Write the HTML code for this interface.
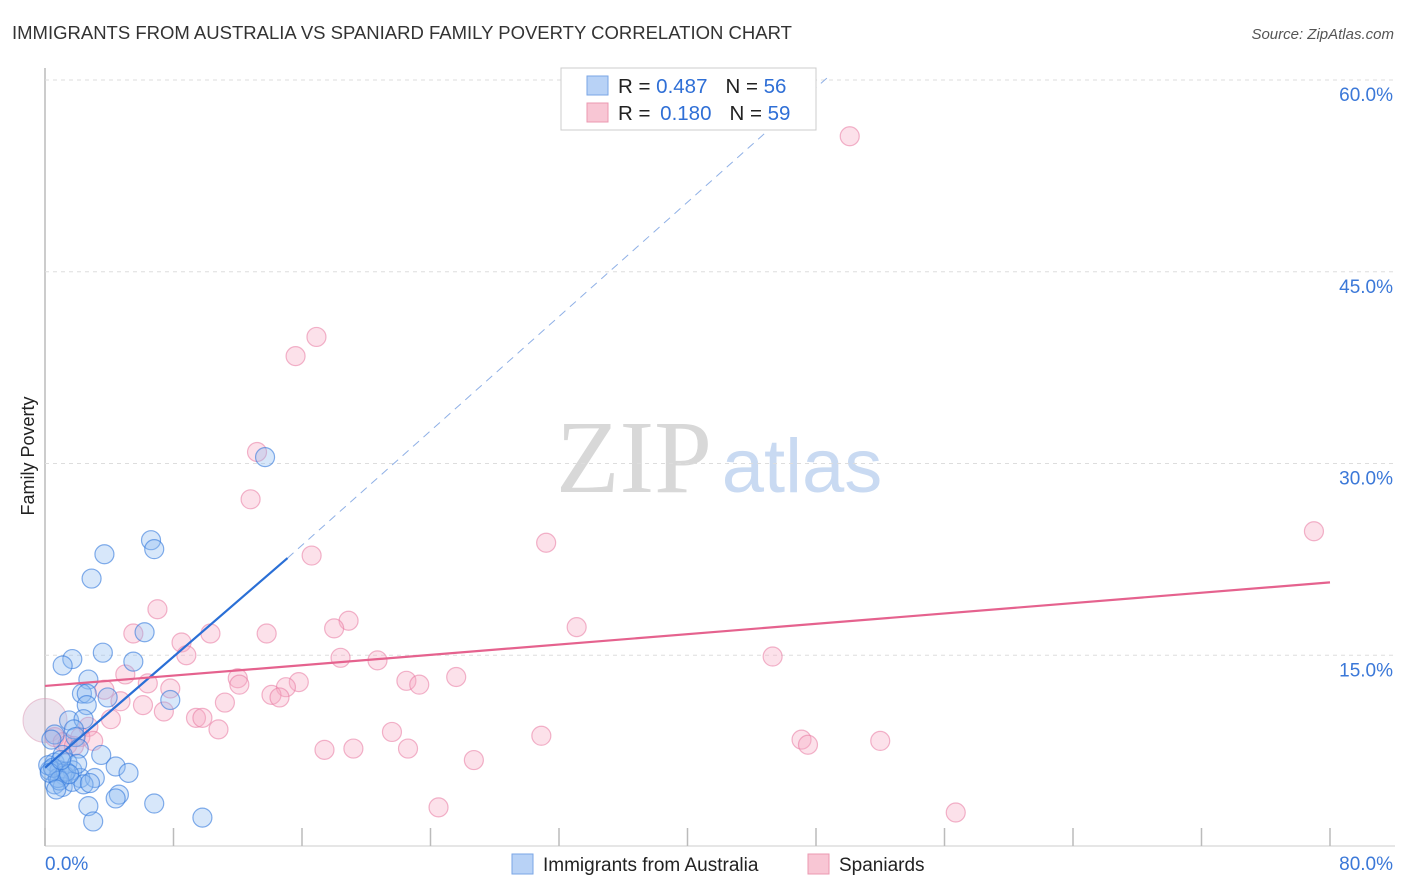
<!DOCTYPE html>
<html><head><meta charset="utf-8"><style>
body{margin:0;background:#fff;font-family:"Liberation Sans",sans-serif;}
#c{position:relative;width:1406px;height:892px;overflow:hidden}
</style></head><body>
<div id="c">
<svg id="s" width="1406" height="892" xmlns="http://www.w3.org/2000/svg">
<text x="12" y="39" font-size="18.5" fill="#333">IMMIGRANTS FROM AUSTRALIA VS SPANIARD FAMILY POVERTY CORRELATION CHART</text>
<text x="1394" y="39" font-size="15" fill="#555" font-style="italic" text-anchor="end">Source: ZipAtlas.com</text>
<text x="634" y="492" font-size="104" fill="#d8d8d8" font-family="Liberation Serif,serif" text-anchor="middle">ZIP</text>
<text x="802" y="492" font-size="76" fill="#c9daf2" text-anchor="middle">atlas</text>
<text transform="translate(34,456) rotate(-90)" font-size="18" fill="#222" text-anchor="middle">Family Poverty</text>
<g id="grid"></g><g id="pts"></g><g id="lines"></g>
<g>
<rect x="561" y="68" width="255" height="62" fill="#fff" stroke="#ccc"/>
<rect x="587" y="76" width="21" height="19" fill="#b8d2f6" stroke="#7aa6e6"/>
<rect x="587" y="103" width="21" height="19" fill="#f8c6d4" stroke="#eb98b1"/>
<text x="618" y="93" font-size="20.5" fill="#222">R = <tspan fill="#2f6fd6">0.487</tspan><tspan dx="18">N = </tspan><tspan fill="#2f6fd6">56</tspan></text>
<text x="618" y="120" font-size="20.5" fill="#222">R = <tspan fill="#2f6fd6" dx="4">0.180</tspan><tspan dx="18">N = </tspan><tspan fill="#2f6fd6">59</tspan></text>
</g>
<g>
<rect x="512" y="854" width="21" height="20" fill="#b8d2f6" stroke="#7aa6e6"/>
<text x="543" y="871" font-size="19" fill="#222">Immigrants from Australia</text>
<rect x="808" y="854" width="21" height="20" fill="#f8c6d4" stroke="#eb98b1"/>
<text x="839" y="871" font-size="19" fill="#222">Spaniards</text>
</g>
</svg>
</div>
<script>
const yTicks=[15,30,45,60];
const yTickLabels=["15.0%","30.0%","45.0%","60.0%"];
const xTicks=[0,8,16,24,32,40,48,56,64,72,80];
const blueX=[13.7,6.6,6.8,3.7,2.9,6.2,3.6,1.7,1.1,5.5,2.7,2.3,2.6,7.8,3.9,2.6,1.5,2.4,1.8,1.9,0.6,2.1,3.5,0.6,1.4,0.3,0.9,1.7,4.4,5.2,1.2,2.2,3.1,0.6,1.1,1.7,2.4,4.6,4.4,2.7,6.8,3.0,9.8,0.8,0.2,1.1,0.4,1.3,0.5,2.0,0.9,1.5,0.3,2.8,1.0,0.7];
const blueY=[30.5,24.0,23.3,22.9,21.0,16.8,15.2,14.7,14.2,14.5,13.1,12.0,12.0,11.5,11.7,11.1,9.9,10.0,9.2,8.6,8.8,7.7,7.2,6.6,6.6,6.0,6.0,6.0,6.3,5.8,5.6,5.4,5.4,4.9,4.7,5.1,4.9,4.1,3.8,3.2,3.4,2.0,2.3,5.4,6.4,7.2,8.4,5.9,6.2,6.5,5.2,5.7,5.8,5.0,6.8,4.5];
const pinkX=[50.1,16.9,15.6,13.2,12.8,31.2,16.6,79.0,7.0,18.9,18.0,33.1,5.5,13.8,10.3,8.5,8.8,18.4,20.7,45.3,5.0,12.0,25.6,6.4,12.1,15.8,22.5,23.3,15.0,7.8,3.7,14.1,14.6,4.7,6.1,11.2,7.4,9.4,9.8,4.1,10.8,2.7,21.6,30.9,0.6,1.1,1.4,2.2,47.1,47.5,52.0,17.4,19.2,22.6,26.7,24.5,56.7,1.8,3.0];
const pinkY=[55.6,39.9,38.4,30.9,27.2,23.8,22.8,24.7,18.6,17.7,17.1,17.2,16.7,16.7,16.7,16.0,15.0,14.8,14.6,14.9,13.5,13.2,13.3,12.8,12.7,12.9,13.0,12.7,12.5,12.4,12.3,11.9,11.7,11.4,11.1,11.3,10.6,10.1,10.1,10.0,9.2,9.4,9.0,8.7,8.6,8.2,8.0,8.6,8.4,8.0,8.3,7.6,7.7,7.7,6.8,3.1,2.7,7.9,8.3];
const blueTrend=[0,6.2,15.1,22.6,48.9,60.4];
const pinkTrend=[0,12.6,80,20.7];
const NS="http://www.w3.org/2000/svg";
const X=v=>45+v/80*1285, Y=v=>847-v/60*767;
function mk(t,a,p){const e=document.createElementNS(NS,t);for(const k in a)e.setAttribute(k,a[k]);p.appendChild(e);return e;}
const g=document.getElementById('grid');
const ax=mk('line',{x1:45,y1:68,x2:45,y2:846,stroke:'#bbb','stroke-width':1.5},g);


const bx=mk('line',{x1:45,y1:846,x2:1395,y2:846,stroke:'#ccc','stroke-width':1},g);


yTicks.forEach((v,i)=>{
 const l=mk('line',{x1:45,y1:Y(v),x2:1395,y2:Y(v),stroke:'#ddd','stroke-dasharray':'4,4'},g);
 
 
 const t=mk('text',{x:1393,y:Y(v)+21,'font-size':19,fill:'#3b78d8','text-anchor':'end'},g);
 t.textContent=yTickLabels[i];
 
 
});
xTicks.forEach(v=>{
 const l=mk('line',{x1:X(v),y1:828,x2:X(v),y2:846,stroke:'#bbb','stroke-width':1.5},g);
 
 
});
const t0=mk('text',{x:45,y:870,'font-size':19,fill:'#3b78d8'},g);t0.textContent='0.0%';


const t1=mk('text',{x:1393,y:870,'font-size':19,fill:'#3b78d8','text-anchor':'end'},g);t1.textContent='80.0%';


const p=document.getElementById('pts');
const big=mk('circle',{cx:X(0),cy:Y(9.9),r:22,fill:'rgba(200,170,200,0.3)',stroke:'rgba(220,150,180,0.5)'},p);


pinkX.forEach((x,i)=>{const c=mk('circle',{cx:X(x),cy:Y(pinkY[i]),r:9.5,fill:'rgba(246,170,195,0.35)',stroke:'rgba(232,120,160,0.55)','stroke-width':1.2},p);
 
 });
blueX.forEach((x,i)=>{const c=mk('circle',{cx:X(x),cy:Y(blueY[i]),r:9.5,fill:'rgba(140,185,240,0.35)',stroke:'rgba(50,120,220,0.6)','stroke-width':1.2},p);
 
 });
const L=document.getElementById('lines');
const b1=mk('line',{x1:X(blueTrend[0]),y1:Y(blueTrend[1]),x2:X(blueTrend[2]),y2:Y(blueTrend[3]),stroke:'#2a6fd6','stroke-width':2.2},L);


const b2=mk('line',{x1:X(blueTrend[2]),y1:Y(blueTrend[3]),x2:X(blueTrend[4]),y2:Y(blueTrend[5]),stroke:'#8fb0e6','stroke-width':1,'stroke-dasharray':'8,6'},L);


const pl=mk('line',{x1:X(pinkTrend[0]),y1:Y(pinkTrend[1]),x2:X(pinkTrend[2]),y2:Y(pinkTrend[3]),stroke:'#e5628e','stroke-width':2.2},L);


</script>
</body></html>
